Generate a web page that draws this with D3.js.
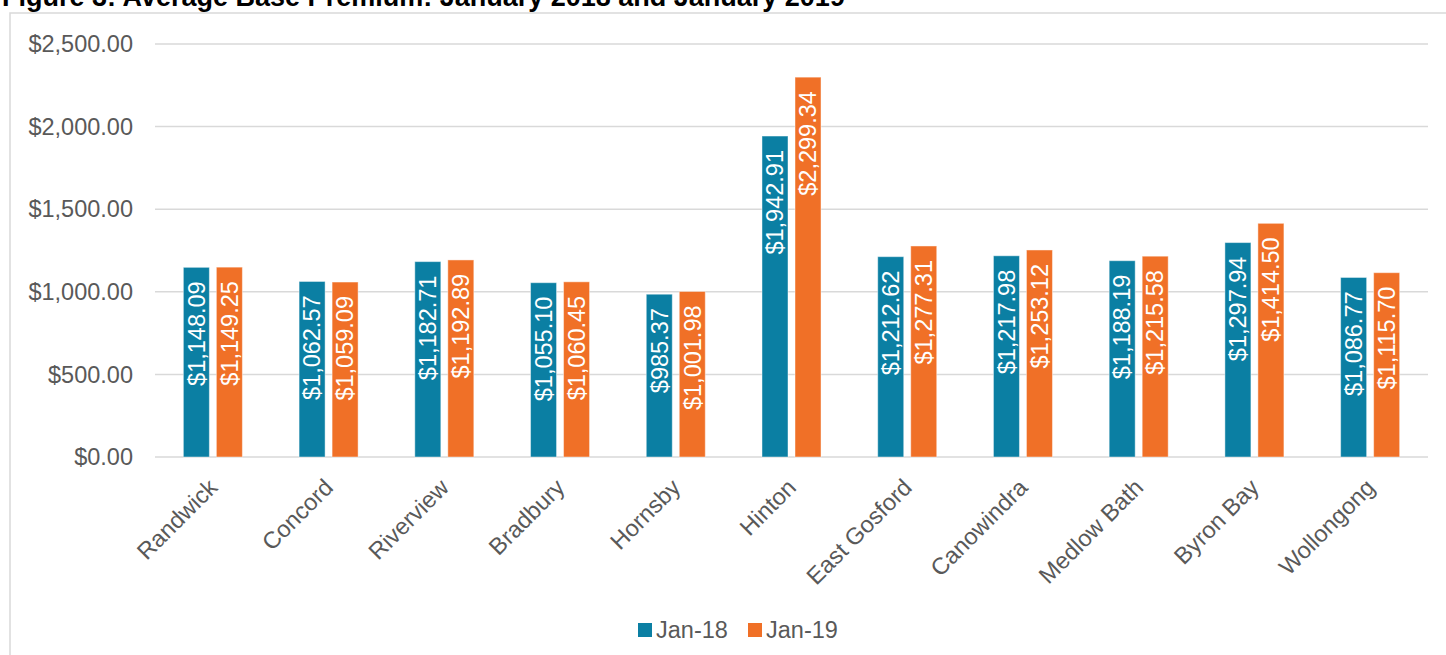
<!DOCTYPE html>
<html><head><meta charset="utf-8">
<script src="https://cdn.jsdelivr.net/npm/d3@7"></script>
<style>
html,body{margin:0;padding:0;background:#fff;}
svg{display:block;font-family:"Liberation Sans",Arial,sans-serif;}
</style></head>
<body><svg id="c" width="1446" height="655"></svg>
<script>
const title = "Figure 3: Average Base Premium: January 2018 and January 2019";
const categories = ["Randwick","Concord","Riverview","Bradbury","Hornsby","Hinton","East Gosford","Canowindra","Medlow Bath","Byron Bay","Wollongong"];
const seriesNames = ["Jan-18","Jan-19"];
const jan18 = [1148.09,1062.57,1182.71,1055.10,985.37,1942.91,1212.62,1217.98,1188.19,1297.94,1086.77];
const jan19 = [1149.25,1059.09,1192.89,1060.45,1001.98,2299.34,1277.31,1253.12,1215.58,1414.50,1115.70];
const yTicks = [0,500,1000,1500,2000,2500];
const colors = ["#0B7FA3","#F07027"];

(function(){
const svg = d3.select("#c");
const pL = 155, pR = 1428, pT = 44, pB = 457;
const fs = 23.5;

// outer border
svg.append("rect").attr("x",10).attr("y",13).attr("width",1500).attr("height",1000)
  .attr("fill","none").attr("stroke","#d9d9d9").attr("stroke-width",1.5);

// title (partly cut off at the top, as in the reference)
svg.append("text").attr("x",2).attr("y",6).attr("font-weight","bold")
  .attr("font-size",27).attr("fill","#000").text(title);

const x0 = d3.scaleBand().domain(categories).range([pL,pR]).paddingInner(0).paddingOuter(0);
const x1 = d3.scaleBand().domain(seriesNames).range([0,x0.bandwidth()]).paddingInner(0.212).paddingOuter(0.859);
const y = d3.scaleLinear().domain([0,2500]).range([pB,pT]);

// gridlines
svg.append("g").selectAll("line").data(yTicks).join("line")
  .attr("x1",pL).attr("x2",pR).attr("y1",d=>y(d)).attr("y2",d=>y(d))
  .attr("stroke","#d9d9d9").attr("stroke-width",1.5);

// y labels
const fmt = d3.format("$,.2f");
svg.append("g").selectAll("text").data(yTicks).join("text")
  .attr("x",133).attr("y",d=>y(d)).attr("dy","0.35em").attr("text-anchor","end")
  .attr("font-size",fs).attr("fill","#595959").text(d=>fmt(d));

const data = categories.map((c,i)=>({c, vals:[jan18[i],jan19[i]]}));
const g = svg.append("g");
data.forEach(d=>{
  d.vals.forEach((v,j)=>{
    const bx = x0(d.c)+x1(seriesNames[j]);
    g.append("rect").attr("x",bx).attr("y",y(v)).attr("width",x1.bandwidth()).attr("height",pB-y(v))
      .attr("fill",colors[j]).attr("stroke","rgba(255,255,255,0.45)").attr("stroke-width",1);
    const cx = bx + x1.bandwidth()/2, ty = y(v)+14;
    g.append("text").attr("transform",`translate(${cx},${ty}) rotate(-90)`)
      .attr("dy","0.35em").attr("text-anchor","end").attr("font-size",fs).attr("fill","#fff")
      .text(fmt(v));
  });
});

// x labels
svg.append("g").selectAll("text").data(categories).join("text")
  .attr("transform",d=>`translate(${x0(d)+x0.bandwidth()/2+6},${pB+32}) rotate(-45)`)
  .attr("text-anchor","end").attr("font-size",fs).attr("fill","#595959").text(d=>d);

// legend
const leg = svg.append("g");
const lx = [638, 748];
seriesNames.forEach((s,j)=>{
  leg.append("rect").attr("x",lx[j]).attr("y",623).attr("width",14).attr("height",14).attr("fill",colors[j]);
  leg.append("text").attr("x",lx[j]+18).attr("y",630).attr("dy","0.35em").attr("font-size",fs).attr("fill","#595959").text(s);
});
})();
</script></body></html>
